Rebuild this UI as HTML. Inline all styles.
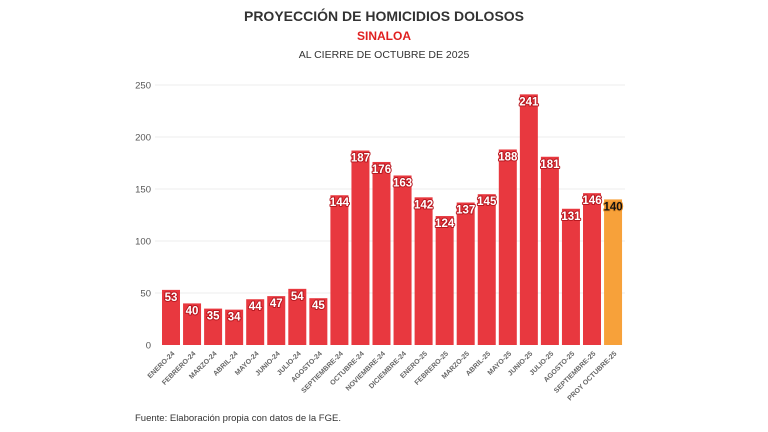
<!DOCTYPE html>
<html><head><meta charset="utf-8"><style>
body{margin:0;background:#fff;}
svg{display:block;font-family:"Liberation Sans",sans-serif;}
</style></head><body>
<svg width="768" height="432" viewBox="0 0 768 432">
<text x="384" y="21" text-anchor="middle" font-size="14" font-weight="bold" fill="#333">PROYECCIÓN DE HOMICIDIOS DOLOSOS</text>
<text x="384" y="40" text-anchor="middle" font-size="12" font-weight="bold" fill="#e02020">SINALOA</text>
<text x="384" y="58" text-anchor="middle" font-size="10.5" fill="#333">AL CIERRE DE OCTUBRE DE 2025</text>
<text x="135" y="421" font-size="9.5" fill="#333">Fuente: Elaboración propia con datos de la FGE.</text>
</svg>
<script>
const vals=[53,40,35,34,44,47,54,45,144,187,176,163,142,124,137,145,188,241,181,131,146,140];
const labs=["ENERO-24","FEBRERO-24","MARZO-24","ABRIL-24","MAYO-24","JUNIO-24","JULIO-24","AGOSTO-24","SEPTIEMBRE-24","OCTUBRE-24","NOVIEMBRE-24","DICIEMBRE-24","ENERO-25","FEBRERO-25","MARZO-25","ABRIL-25","MAYO-25","JUNIO-25","JULIO-25","AGOSTO-25","SEPTIEMBRE-25","PROY OCTUBRE-25"];
const ns="http://www.w3.org/2000/svg";
const svg=document.querySelector('svg');
function el(t,a,txt){const e=document.createElementNS(ns,t);for(const k in a)e.setAttribute(k,a[k]);if(txt!==undefined)e.textContent=txt;svg.appendChild(e);return e;}
const y0=345,k=1.04;
for(let v=0;v<=250;v+=50){const y=y0-v*k;
 if(v>0)el('line',{x1:155,x2:625,y1:y,y2:y,stroke:'#ececec'});
 el('text',{x:151,y:y+3.5,'text-anchor':'end','font-size':'9.5',fill:'#555'},v);}
vals.forEach((v,i)=>{const x=162+i*21.05,h=v*k,last=i==21;
 el('rect',{x:x,y:y0-h,width:18,height:h,fill:last?'#f7a13a':'#e8383f'});
 const cx=x+9,ty=y0-h+11;
 el('text',{x:cx,y:ty,'text-anchor':'middle','font-size':'11.5','font-weight':'bold',fill:last?'#111':'#fff',stroke:last?'#e8902a':'#b81820','stroke-width':'2','paint-order':'stroke','stroke-linejoin':'round'},v);
 el('text',{x:cx+4,y:y0+9,'text-anchor':'end','font-size':'7','font-weight':'bold',fill:'#666',transform:`rotate(-45 ${cx+4} ${y0+9})`},labs[i]);
});
</script>
</body></html>
